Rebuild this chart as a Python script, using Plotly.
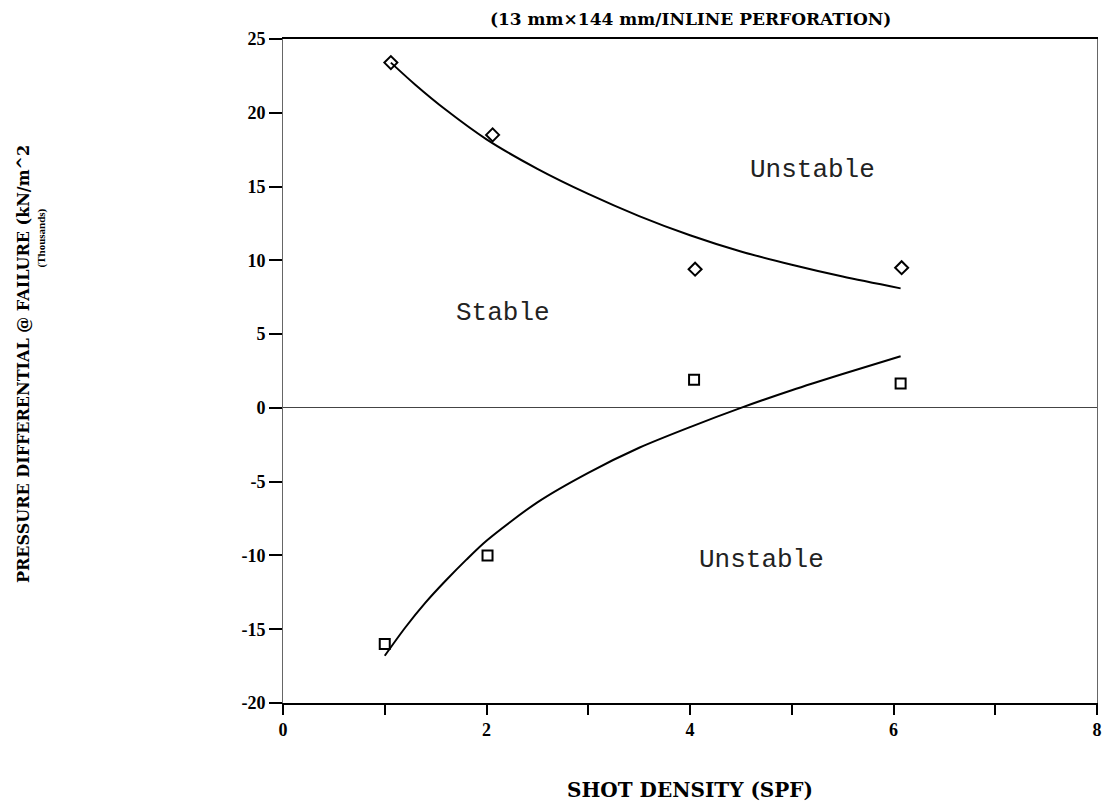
import plotly.graph_objects as go

# Data
diamond_x = [1.06, 2.06, 4.05, 6.08]
diamond_y = [23.4, 18.5, 9.4, 9.5]
square_x = [1.0, 2.01, 4.04, 6.07]
square_y = [-16.0, -10.0, 1.9, 1.65]

upper_curve_x = [1.06, 1.3, 1.6, 2.0, 2.5, 3.0, 3.5, 4.0, 4.5, 5.0, 5.5, 6.07]
upper_curve_y = [23.4, 21.9, 20.2, 18.2, 16.2, 14.5, 13.0, 11.7, 10.6, 9.7, 8.9, 8.1]
lower_curve_x = [1.0, 1.2, 1.4, 1.6, 1.8, 2.0, 2.5, 3.0, 3.5, 4.0, 4.5, 5.0, 5.5, 6.07]
lower_curve_y = [-16.8, -14.9, -13.2, -11.7, -10.3, -9.0, -6.4, -4.4, -2.7, -1.3, 0.0, 1.2, 2.3, 3.5]

x_tickvals = [0, 1, 2, 3, 4, 5, 6, 7, 8]
x_ticktext = ["0", "", "2", "", "4", "", "6", "", "8"]
y_tickvals = [25, 20, 15, 10, 5, 0, -5, -10, -15, -20]
y_ticktext = ["25", "20", "15", "10", "5", "0", "-5", "-10", "-15", "-20"]

region_labels = ["Unstable", "Stable", "Unstable"]
region_x = [5.2, 2.16, 4.7]
region_y = [16.1, 6.4, -10.3]

serif = "Liberation Serif, Times New Roman, serif"
wide_serif = "DejaVu Serif, serif"
mono = "Liberation Mono, Courier New, monospace"

fig = go.Figure()
fig.add_trace(go.Scatter(x=upper_curve_x, y=upper_curve_y, mode="lines",
                         line=dict(color="black", width=2, shape="spline", smoothing=0.8),
                         showlegend=False))
fig.add_trace(go.Scatter(x=lower_curve_x, y=lower_curve_y, mode="lines",
                         line=dict(color="black", width=2, shape="spline", smoothing=0.8),
                         showlegend=False))
fig.add_trace(go.Scatter(x=diamond_x, y=diamond_y, mode="markers",
                         marker=dict(symbol="diamond-open", size=10, color="black",
                                     line=dict(width=2, color="black")), showlegend=False))
fig.add_trace(go.Scatter(x=square_x, y=square_y, mode="markers",
                         marker=dict(symbol="square-open", size=10, color="black",
                                     line=dict(width=2, color="black")), showlegend=False))

for t, xx, yy in zip(region_labels, region_x, region_y):
    fig.add_annotation(x=xx, y=yy, text=t, showarrow=False,
                       font=dict(family=mono, size=26, color="#222"))

fig.add_annotation(xref="paper", yref="paper", x=0.5, y=1.0, yshift=20,
                   xanchor="center", yanchor="middle",
                   text="<b>(13 mm×144 mm/INLINE PERFORATION)</b>", showarrow=False,
                   font=dict(family=wide_serif, size=17, color="black"))

fig.add_annotation(xref="paper", yref="paper", x=-0.319, y=0.511, textangle=-90,
                   xanchor="center", yanchor="middle",
                   text="<b>PRESSURE DIFFERENTIAL @ FAILURE (kN/m^2</b>", showarrow=False,
                   font=dict(family=wide_serif, size=16, color="black"))
fig.add_annotation(xref="paper", yref="paper", x=-0.297, y=0.70, textangle=-90,
                   xanchor="center", yanchor="middle",
                   text="<b>(Thousands)</b>", showarrow=False,
                   font=dict(family=serif, size=11, color="black"))

fig.update_layout(
    width=1105, height=801,
    margin=dict(l=275, r=11, t=31, b=103),
    paper_bgcolor="white", plot_bgcolor="white",
    xaxis=dict(range=[0, 8], tickvals=x_tickvals, ticktext=x_ticktext,
               ticks="outside", ticklen=10, tickcolor="black", tickwidth=1.5,
               showgrid=False, zeroline=False, showline=True, linecolor="black",
               linewidth=1.5, mirror=True,
               tickfont=dict(family=serif, size=18, color="black", weight="bold"),
               title=dict(text="<b>SHOT DENSITY (SPF)</b>", standoff=44,
                          font=dict(family=wide_serif, size=20, color="black"))),
    yaxis=dict(range=[-20, 25], tickvals=y_tickvals, ticktext=y_ticktext,
               ticks="outside", ticklen=13, tickcolor="black", tickwidth=1.5,
               showgrid=False, zeroline=True, zerolinecolor="#444", zerolinewidth=1,
               showline=True, linecolor="#666", linewidth=1, mirror=True,
               tickfont=dict(family=serif, size=18, color="black", weight="bold")),
)

fig.write_html("out.html")
